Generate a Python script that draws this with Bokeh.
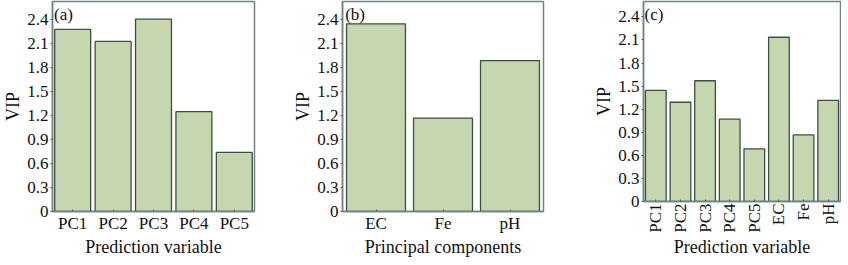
from bokeh.plotting import figure
from bokeh.layouts import row
from bokeh.models import Label, FixedTicker
from bokeh.embed import file_html
from bokeh.resources import INLINE

cats_a = ["PC1", "PC2", "PC3", "PC4", "PC5"]
vip_a = [2.28, 2.13, 2.41, 1.25, 0.74]

cats_b = ["EC", "Fe", "pH"]
vip_b = [2.35, 1.17, 1.89]

cats_c = ["PC1", "PC2", "PC3", "PC4", "PC5", "EC", "Fe", "pH"]
vip_c = [1.445, 1.29, 1.57, 1.07, 0.685, 2.135, 0.865, 1.315]

y_ticks = [0, 0.3, 0.6, 0.9, 1.2, 1.5, 1.8, 2.1, 2.4]

FONT = "Liberation Serif"
FILL = "#c6d6ae"
EDGE = "#3f4d47"
FRAME = "#708382"


def make(cats, vals, fw, fh, bw, xlabel, tag, ymax, rot, mb_right):
    p = figure(x_range=cats, y_range=(0, ymax), frame_width=fw, frame_height=fh,
               output_backend="svg", toolbar_location=None,
               min_border_left=20, min_border_right=mb_right,
               min_border_top=1, min_border_bottom=0)
    p.vbar(x=cats, top=vals, width=bw, fill_color=FILL, line_color=EDGE, line_width=1.3)
    p.xgrid.visible = False
    p.ygrid.visible = False
    p.outline_line_color = FRAME
    p.outline_line_width = 1.5
    p.yaxis.ticker = FixedTicker(ticks=y_ticks)
    p.yaxis.major_label_overrides = {0: "0"}
    for ax in (p.xaxis, p.yaxis):
        ax.axis_line_color = FRAME
        ax.axis_line_width = 1.5
        ax.major_tick_line_color = "#555555"
        ax.minor_tick_line_color = None
        ax.major_label_text_font = FONT
        ax.major_label_text_font_size = "17px"
        ax.major_label_text_color = "#111111"
        ax.axis_label_text_font = FONT
        ax.axis_label_text_font_size = "18px"
        ax.axis_label_text_font_style = "normal"
        ax.axis_label_text_color = "#111111"
        ax.axis_label_standoff = 1
        ax.major_label_standoff = 2
    p.yaxis.major_tick_out = 2
    p.yaxis.major_tick_in = 0
    p.xaxis.major_tick_out = 0
    p.xaxis.major_tick_in = 2
    p.yaxis.axis_label = "VIP"
    p.xaxis.axis_label = xlabel
    if rot:
        p.xaxis.major_label_orientation = 1.5708
    p.add_layout(Label(x=0.04, y=ymax * 0.985, text=tag, text_font=FONT,
                       text_font_size="17px", text_baseline="top", text_color="#111111"))
    return p


pa = make(cats_a, vip_a, 202, 210, 0.89, "Prediction variable", "(a)", 2.63, False, 36)
pb = make(cats_b, vip_b, 201, 210, 0.88, "Principal components", "(b)", 2.63, False, 48)
pc = make(cats_c, vip_c, 197, 200, 0.84, "Prediction variable", "(c)", 2.6, True, 1)

layout = row(pa, pb, pc)
open("out.html", "w").write(file_html(layout, INLINE))
